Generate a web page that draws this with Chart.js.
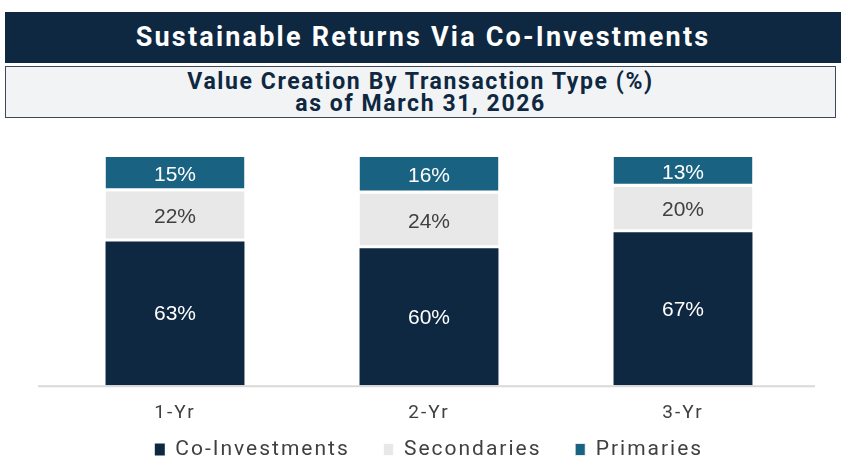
<!DOCTYPE html>
<html>
<head>
<meta charset="utf-8">
<script src="https://cdn.jsdelivr.net/npm/chart.js@4.4.1/dist/chart.umd.min.js"></script>
<style>
  body { margin: 0; width: 841px; height: 459px; background: #fff; overflow: hidden; font-family: Roboto, sans-serif; }
  #titulo { position: absolute; left: 5px; top: 12px; width: 836px; height: 51px; background: #0E2841; color: #fff;
            font: bold 27px Roboto, sans-serif; letter-spacing: 2.2px; text-align: center; line-height: 50px; }
  #subtitulo { position: absolute; left: 5px; top: 66px; width: 829px; height: 46px; background: #F2F3F5; border: 1.5px solid #3E4A5C;
               color: #0E2841; font: bold 23px Roboto, sans-serif; letter-spacing: 1.6px; text-align: center; line-height: 22px; padding-top: 4px; }
  #contenedor { position: absolute; left: 0; top: 125px; width: 841px; height: 334px; }
</style>
</head>
<body>
<div id="titulo">Sustainable Returns Via Co-Investments</div>
<div id="subtitulo">Value Creation By Transaction Type (%)<br>as of March 31, 2026</div>
<div id="contenedor"><canvas id="grafico"></canvas></div>
<script>
var periodos = ['1-Yr', '2-Yr', '3-Yr'];
var coInversiones = [63, 60, 67];
var secundarias = [22, 24, 20];
var primarias = [15, 16, 13];

// espaciado de letras para leyenda y ejes
var espaciadoPlugin = {
    id: 'espaciado',
    beforeUpdate: function(chart) { chart.ctx.letterSpacing = '2px'; },
    beforeDraw: function(chart) { chart.ctx.letterSpacing = '2px'; }
};

// etiquetas de valor dentro de cada segmento
var etiquetasPlugin = {
    id: 'etiquetas',
    afterDatasetsDraw: function(chart) {
        var ctx = chart.ctx;
        ctx.save();
        ctx.letterSpacing = '0px';
        ctx.font = '21px "Liberation Sans", Arial, sans-serif';
        ctx.textAlign = 'center';
        ctx.textBaseline = 'middle';
        chart.data.datasets.forEach(function(ds, i) {
            var meta = chart.getDatasetMeta(i);
            meta.data.forEach(function(bar, j) {
                var centro = bar.getCenterPoint();
                ctx.fillStyle = ds.colorTexto;
                ctx.fillText(ds.data[j] + '%', centro.x, centro.y + 1);
            });
        });
        ctx.restore();
    }
};

// linea del eje algo mas ancha que el area del grafico
var ejePlugin = {
    id: 'eje',
    beforeDatasetsDraw: function(chart) {
        var a = chart.chartArea, ctx = chart.ctx;
        ctx.save();
        ctx.strokeStyle = '#D9D9D9';
        ctx.lineWidth = 2;
        ctx.beginPath();
        ctx.moveTo(a.left - 10, a.bottom + 1);
        ctx.lineTo(a.right + 5, a.bottom + 1);
        ctx.stroke();
        ctx.restore();
    }
};

// separacion blanca debajo de los segmentos superiores
var bordeSuperior = { top: 0, bottom: 3, left: 0, right: 0 };

var ctx = document.getElementById('grafico').getContext('2d');
var grafico = new Chart(ctx, {
    type: 'bar',
    data: {
        labels: periodos,
        datasets: [
            { label: 'Co-Investments', data: coInversiones, backgroundColor: '#0E2841', colorTexto: '#FFFFFF', borderWidth: 0 },
            { label: 'Secondaries', data: secundarias, backgroundColor: '#E8E8E8', colorTexto: '#404040', borderWidth: bordeSuperior, borderSkipped: false },
            { label: 'Primaries', data: primarias, backgroundColor: '#1A6282', colorTexto: '#FFFFFF', borderWidth: bordeSuperior, borderSkipped: false }
        ]
    },
    options: {
        responsive: true,
        maintainAspectRatio: false,
        animation: false,
        layout: { padding: { top: 32, left: 48, right: 31, bottom: -11 } },
        datasets: {
            bar: { barPercentage: 0.547, categoryPercentage: 1, borderColor: '#FFFFFF' }
        },
        scales: {
            x: {
                stacked: true,
                grid: { display: false },
                border: { display: false },
                ticks: { color: '#404040', font: { family: 'Roboto, sans-serif', size: 19 }, padding: 9 },
                afterFit: function(escala) { escala.height -= 7; }
            },
            y: { stacked: true, min: 0, max: 100, display: false }
        },
        plugins: {
            legend: {
                position: 'bottom',
                labels: {
                    color: '#404040',
                    font: { family: 'Roboto, sans-serif', size: 21 },
                    boxWidth: 10, boxHeight: 12, padding: 12,
                    // espacios al final para separar mas los elementos
                    generateLabels: function(chart) {
                        var items = Chart.defaults.plugins.legend.labels.generateLabels(chart);
                        items.forEach(function(it, i) {
                            if (i < items.length - 1) it.text += '   ';
                        });
                        return items;
                    }
                }
            },
            tooltip: { enabled: false }
        }
    },
    plugins: [espaciadoPlugin, etiquetasPlugin, ejePlugin]
});
</script>
</body>
</html>
